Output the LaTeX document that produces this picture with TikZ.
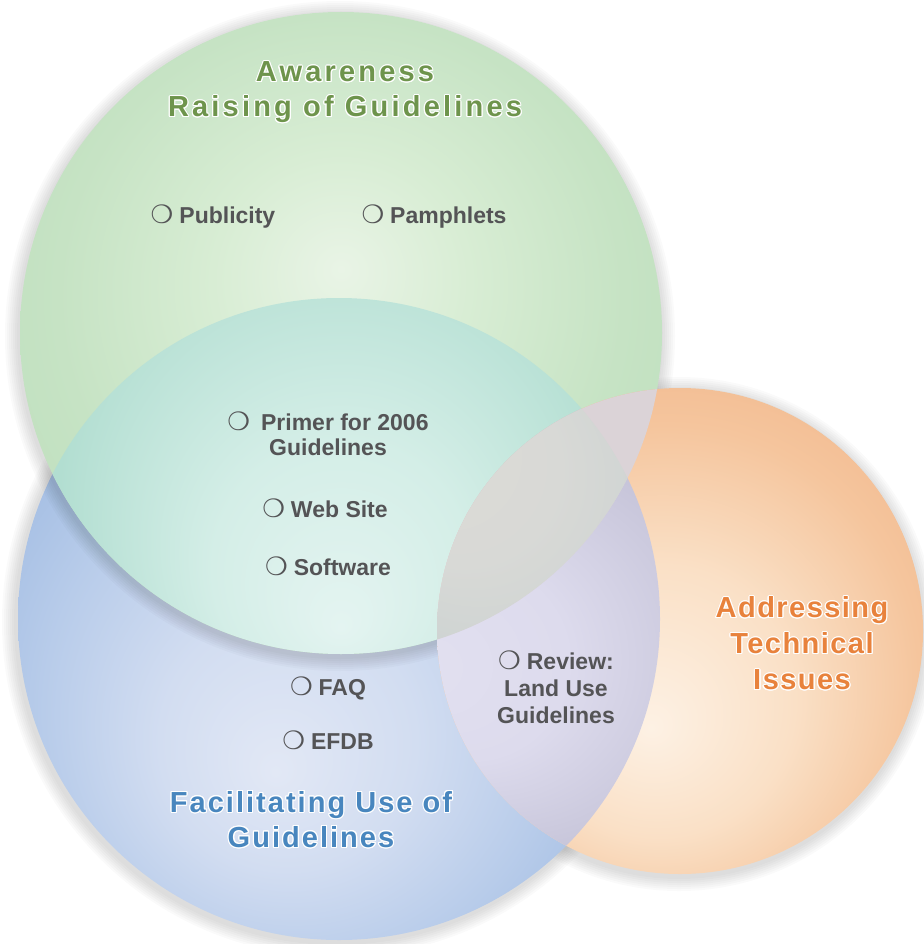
\documentclass[tikz,border=0pt]{standalone}
\usepackage{fontspec}
\setmainfont{Liberation Sans}
\newfontfamily\grnfont[LetterSpace=11]{Liberation Sans}
\newfontfamily\blufont[LetterSpace=7]{Liberation Sans}
\newfontfamily\orgfont[LetterSpace=5]{Liberation Sans}
\newfontfamily\symfont[Scale=1.1]{DejaVu Sans}
\usepackage{contour}
\contourlength{1.1pt}
\usetikzlibrary{positioning}

\definecolor{itemgray}{RGB}{84,84,86}
\definecolor{grntext}{RGB}{110,148,76}
\definecolor{blutext}{RGB}{72,134,190}
\definecolor{orgtext}{RGB}{232,130,60}
\definecolor{pinkgrey}{RGB}{219,211,215}
% circle colours, inner to outer
\definecolor{gA}{HTML}{E9F4E6}\definecolor{gB}{HTML}{D8EDD4}\definecolor{gC}{HTML}{C6E3C4}\definecolor{gD}{HTML}{BADDBA}
\definecolor{tA}{HTML}{E4F4F1}\definecolor{tB}{HTML}{D4EEE7}\definecolor{tC}{HTML}{B2DED1}\definecolor{tD}{HTML}{A4D6C6}
\definecolor{bA}{HTML}{E2E8F5}\definecolor{bB}{HTML}{D2DDF1}\definecolor{bC}{HTML}{B8CCEA}\definecolor{bD}{HTML}{9DB9E1}\definecolor{bE}{HTML}{8AADDA}
\definecolor{oA}{HTML}{FDF1E4}\definecolor{oB}{HTML}{FAE0C6}\definecolor{oC}{HTML}{F5C59D}\definecolor{oD}{HTML}{EFB286}
\definecolor{lA}{HTML}{E2E0F0}\definecolor{lB}{HTML}{DDDBED}\definecolor{lC}{HTML}{C4C2D7}\definecolor{lD}{HTML}{B3B1C7}
\definecolor{xA}{HTML}{DEDBD7}\definecolor{xB}{HTML}{D8D9D6}\definecolor{xC}{HTML}{C6CFCF}\definecolor{xD}{HTML}{BCC9C9}

\pgfdeclareradialshading{grnball}{\pgfpoint{0bp}{5bp}}{color(0bp)=(gA); color(10bp)=(gB); color(22bp)=(gC); color(36bp)=(gD); color(50bp)=(gD)}
\pgfdeclareradialshading{tealball}{\pgfpoint{0bp}{-23bp}}{color(0bp)=(tA); color(10bp)=(tB); color(22bp)=(tC); color(36bp)=(tD); color(50bp)=(tD)}
\pgfdeclareradialshading{bluball}{\pgfpoint{-5bp}{-12bp}}{color(0bp)=(bA); color(10bp)=(bB); color(20bp)=(bC); color(30bp)=(bD); color(40bp)=(bE); color(50bp)=(bE)}
\pgfdeclareradialshading{orgball}{\pgfpoint{-3bp}{-10bp}}{color(0bp)=(oA); color(14bp)=(oB); color(26bp)=(oC); color(38bp)=(oD); color(50bp)=(oD)}
\pgfdeclareradialshading{lavball}{\pgfpoint{-27bp}{-4bp}}{color(0bp)=(lA); color(10bp)=(lB); color(22bp)=(lC); color(40bp)=(lD); color(50bp)=(lD)}
\pgfdeclareradialshading{greyball}{\pgfpoint{-28bp}{21bp}}{color(0bp)=(xA); color(10bp)=(xB); color(22bp)=(xC); color(35bp)=(xD); color(50bp)=(xD)}

\newcommand{\bul}{{\symfont ❍}\hspace{6pt}}
\newcommand{\ttl}[1]{\contour{white}{#1}}

\begin{document}
\begin{tikzpicture}[
  x=1pt,y=-1pt,
  item/.style={font=\fontsize{23}{25}\selectfont\bfseries, text=itemgray, align=center, inner sep=0pt},
  grntitle/.style={font=\grnfont\bfseries\fontsize{29}{35}\selectfont, text=grntext, align=center, inner sep=0pt},
  blutitle/.style={font=\blufont\bfseries\fontsize{29}{35}\selectfont, text=blutext, align=center, inner sep=0pt},
  orgtitle/.style={font=\orgfont\bfseries\fontsize{29}{36}\selectfont, text=orgtext, align=center, inner sep=0pt},
  ]
  \useasboundingbox (0,0) rectangle (923,944);
  \coordinate (G) at (341,333);
  \coordinate (B) at (339,619);
  \coordinate (O) at (680,631);

  % soft shadows
  \foreach \k in {1,...,7}
    \fill[black, opacity=0.018] ([shift={(-1,3)}]O) circle ({243pt+\k*2pt});
  \foreach \k in {1,...,7}
    \fill[black, opacity=0.018] ([shift={(-2,3)}]B) circle ({321pt+\k*2pt});
  \shade[shading=bluball] (B) circle (321pt);
  \foreach \k in {1,...,7}
    \fill[black, opacity=0.018] ([shift={(-1,3)}]G) circle ({321pt+\k*2pt});
  \shade[shading=grnball] (G) circle (321pt);

  % green and blue
  \begin{scope}
    \clip (B) circle (321pt);
    \shade[shading=tealball] (G) circle (321pt);
  \end{scope}

  % orange and its overlaps
  \shade[shading=orgball] (O) circle (243pt);
  \begin{scope}
    \clip (B) circle (321pt);
    \shade[shading=lavball] (O) circle (243pt);
  \end{scope}
  \begin{scope}
    \clip (G) circle (321pt);
    \fill[pinkgrey] (O) circle (243pt);
  \end{scope}
  \begin{scope}
    \clip (G) circle (321pt);
    \clip (B) circle (321pt);
    \shade[shading=greyball] (O) circle (243pt);
  \end{scope}

  % titles
  \node[grntitle] (aware) at (345,93) {\ttl{Awareness}\\\ttl{Raising of Guidelines}};
  \node[blutitle] (facil) at (311,820) {\ttl{Facilitating Use of}\\\ttl{Guidelines}};
  \node[orgtitle] (address) at (802,644) {\ttl{Addressing}\\\ttl{Technical}\\\ttl{Issues}};

  % items
  \node[item] (publicity) at (213,217) {\bul Publicity};
  \node[item] (pamphlets) at (434,217) {\bul Pamphlets};
  \node[item] (primer) at (328,434) {\bul\hspace{5pt}Primer for 2006\\Guidelines};
  \node[item] (website) at (325,508) {\bul Web Site};
  \node[item] (software) at (328,566) {\bul Software};
  \node[item] (faq) at (328,688) {\bul FAQ};
  \node[item] (efdb) at (328,740) {\bul EFDB};
  \node[item, font=\fontsize{23}{27}\selectfont\bfseries] (review) at (556,687) {\bul Review:\\Land Use\\Guidelines};
\end{tikzpicture}
\end{document}
